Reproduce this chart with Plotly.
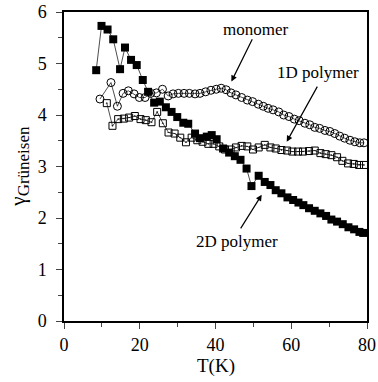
import plotly.graph_objects as go

# Grüneisen parameter vs temperature for three C60 phases
t_monomer = [9.5, 12.4, 14.1, 15.6, 17.0, 18.5, 19.9, 21.4, 22.9, 24.4, 26.0, 27.5,
             28.8, 30.2, 31.7, 33.1, 34.6, 35.9, 37.4, 38.8, 40.2, 41.5, 42.8, 44.1,
             45.4, 46.9, 48.4, 49.8, 51.3, 52.6, 53.9, 55.2, 56.7, 58.0, 59.4, 60.8,
             62.1, 63.6, 64.9, 66.2, 67.5, 68.9, 70.2, 71.5, 72.8, 74.1, 75.5, 76.8,
             78.1, 79.2]
g_monomer = [4.31, 4.63, 4.17, 4.42, 4.47, 4.41, 4.34, 4.34, 4.42, 4.43, 4.50, 4.37,
             4.41, 4.42, 4.42, 4.42, 4.41, 4.42, 4.45, 4.48, 4.50, 4.52, 4.49, 4.43,
             4.39, 4.34, 4.29, 4.26, 4.21, 4.17, 4.13, 4.10, 4.06, 4.00, 3.97, 3.92,
             3.89, 3.84, 3.81, 3.76, 3.74, 3.70, 3.68, 3.64, 3.59, 3.55, 3.51, 3.48,
             3.46, 3.46]

t_1d = [11.3, 12.8, 14.3, 15.8, 17.2, 18.7, 20.2, 21.6, 23.1, 24.6, 26.1, 27.6,
        29.2, 30.7, 32.2, 33.7, 35.2, 36.6, 38.1, 39.5, 41.0, 42.5, 44.0, 45.4,
        46.9, 48.4, 49.9, 51.4, 53.0, 54.5, 55.9, 57.4, 58.9, 60.3, 61.8, 63.1,
        64.7, 66.2, 67.7, 69.1, 70.6, 72.1, 73.5, 75.0, 76.5, 77.9, 79.2]
g_1d = [4.23, 3.79, 3.92, 3.93, 3.95, 3.98, 3.92, 3.90, 3.86, 4.06, 3.84, 3.66,
        3.64, 3.56, 3.47, 3.56, 3.51, 3.48, 3.44, 3.44, 3.39, 3.33, 3.33, 3.37,
        3.40, 3.39, 3.33, 3.37, 3.42, 3.37, 3.35, 3.32, 3.31, 3.29, 3.29, 3.29,
        3.30, 3.31, 3.26, 3.24, 3.22, 3.18, 3.11, 3.06, 3.05, 3.03, 3.03]

t_2d = [8.5, 9.9, 11.5, 13.0, 14.8, 16.1, 17.7, 19.2, 20.8, 22.2, 23.8, 25.3,
        26.9, 28.4, 29.9, 31.5, 32.8, 34.6, 35.9, 37.7, 39.0, 40.3, 42.0, 43.6,
        45.1, 46.6, 48.2, 49.5, 51.4, 53.0, 54.5, 55.9, 57.4, 59.0, 60.5, 61.9,
        63.2, 64.7, 66.2, 67.7, 69.2, 70.6, 72.1, 73.6, 75.1, 76.6, 78.0, 79.0]
g_2d = [4.87, 5.73, 5.66, 5.47, 4.89, 5.31, 5.07, 4.97, 4.68, 4.45, 4.24, 4.26,
        4.15, 4.06, 3.96, 3.85, 3.83, 3.64, 3.55, 3.58, 3.61, 3.53, 3.35, 3.27,
        3.20, 3.13, 2.96, 2.62, 2.82, 2.70, 2.64, 2.54, 2.48, 2.40, 2.35, 2.30,
        2.25, 2.19, 2.14, 2.09, 2.04, 1.97, 1.93, 1.88, 1.82, 1.78, 1.73, 1.71]

x_ticks = [0, 20, 40, 60, 80]
y_ticks = [0, 1, 2, 3, 4, 5, 6]

FONT = "Liberation Serif"
line_style = dict(color="black", width=0.7)

fig = go.Figure()
fig.add_trace(go.Scatter(
    x=t_monomer, y=g_monomer, mode="lines+markers", line=line_style,
    marker=dict(symbol="circle-open", size=8, color="black", line=dict(width=1)),
    name="monomer"))
fig.add_trace(go.Scatter(
    x=t_1d, y=g_1d, mode="lines+markers", line=line_style,
    marker=dict(symbol="square-open-dot", size=7, color="black", line=dict(width=1)),
    name="1D polymer"))
fig.add_trace(go.Scatter(
    x=t_2d, y=g_2d, mode="lines+markers", line=line_style,
    marker=dict(symbol="square", size=8, color="black"),
    name="2D polymer"))

ann_font = dict(family=FONT, size=17, color="black")
arrow = dict(showarrow=True, arrowhead=2, arrowsize=1, arrowwidth=1.2,
             arrowcolor="black", axref="x", ayref="y", text="")

fig.update_layout(
    width=378, height=382,
    margin=dict(l=64, r=11, t=12, b=61, autoexpand=False),
    paper_bgcolor="white", plot_bgcolor="white",
    showlegend=False,
    font=dict(family=FONT, size=18, color="black"),
    xaxis=dict(
        range=[0, 80], tickvals=x_ticks, ticks="outside", ticklen=6, tickwidth=1.2,
        minor=dict(dtick=10, ticks="outside", ticklen=4, tickwidth=1),
        showline=True, linecolor="black", linewidth=1.5, mirror=True,
        showgrid=False, zeroline=False, ticklabelstandoff=1, automargin=False,
        tickfont=dict(family=FONT, size=18)),
    yaxis=dict(
        range=[0, 6], tickvals=y_ticks, ticks="outside", ticklen=6, tickwidth=1.2,
        minor=dict(dtick=0.5, ticks="outside", ticklen=4, tickwidth=1),
        showline=True, linecolor="black", linewidth=1.5, mirror=True,
        showgrid=False, zeroline=False, ticklabelstandoff=6, automargin=False,
        tickfont=dict(family=FONT, size=18)),
    annotations=[
        dict(text="T(K)", xref="paper", yref="paper", x=0.5, y=-0.145,
             xanchor="center", yanchor="middle", showarrow=False,
             font=dict(family=FONT, size=19)),
        dict(text="γ<sub><span style='font-size:17px'>Grüneisen</span></sub>",
             textangle=-90, xref="paper", yref="paper",
             x=-0.148, y=0.5, xanchor="center", yanchor="middle", showarrow=False,
             font=dict(family=FONT, size=21)),
        dict(text="monomer", x=50.5, y=5.66, showarrow=False, font=ann_font),
        dict(text="1D polymer", x=67.1, y=4.82, showarrow=False, font=ann_font),
        dict(text="2D polymer", x=45.6, y=1.55, showarrow=False, font=ann_font),
        dict(x=44.2, y=4.65, ax=49.9, ay=5.5, **arrow),
        dict(x=58.8, y=3.48, ax=67.1, ay=4.58, **arrow),
        dict(x=52.2, y=2.45, ax=46.4, ay=1.77, **arrow),
    ],
)

fig.write_html("out.html")
